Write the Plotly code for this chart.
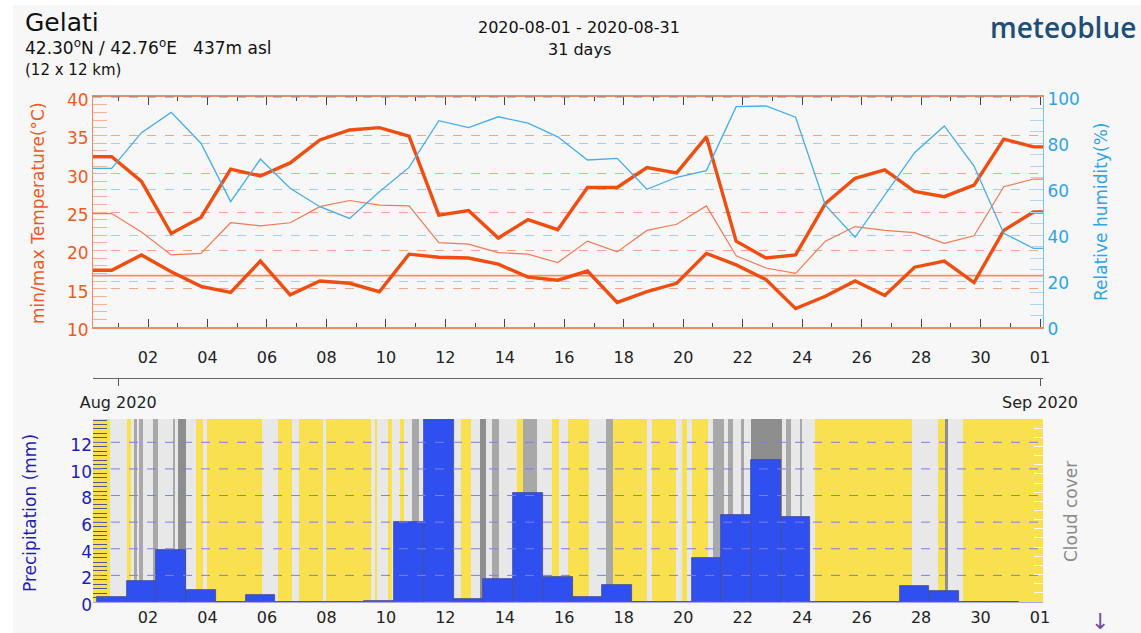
import numpy as np
import plotly.graph_objects as go

# ---------------- data ----------------
tick_days = [1, 3, 5, 7, 9, 11, 13, 15, 17, 19, 21, 23, 25, 27, 29, 31]
tick_labels = ["02", "04", "06", "08", "10", "12", "14", "16", "18", "20",
               "22", "24", "26", "28", "30", "01"]
month_days = [0, 31]
month_labels = ["Aug 2020", "Sep 2020"]

# daily values Aug 1 .. Sep 1
temp_max = [32.2, 29.0, 22.2, 24.3, 30.6, 29.7, 31.4, 34.4, 35.7, 36.0, 34.9,
            24.6, 25.2, 21.6, 24.0, 22.7, 28.2, 28.2, 30.8, 30.1, 34.8, 21.2,
            19.0, 19.4, 26.1, 29.4, 30.5, 27.7, 27.0, 28.5, 34.5, 33.5]
temp_mean = [24.8, 22.4, 19.4, 19.6, 23.6, 23.2, 23.6, 25.7, 26.5, 25.9, 25.8,
             21.0, 20.8, 19.7, 19.5, 18.4, 21.2, 19.8, 22.6, 23.4, 25.8, 19.3,
             17.7, 17.0, 21.2, 23.1, 22.6, 22.3, 20.9, 21.9, 28.3, 29.3]
temp_min = [17.4, 19.4, 17.2, 15.3, 14.5, 18.6, 14.2, 16.0, 15.7, 14.6, 19.5,
            19.1, 19.0, 18.2, 16.5, 16.1, 17.3, 13.2, 14.6, 15.7, 19.6, 18.1,
            16.2, 12.4, 14.0, 16.0, 14.1, 17.8, 18.6, 15.8, 22.6, 25.0]
humidity = [69.0, 84.5, 93.3, 79.9, 54.5, 73.0, 60.3, 52.3, 47.2, 58.8, 69.4,
            89.7, 86.7, 91.4, 88.6, 82.7, 72.6, 73.3, 59.9, 65.1, 68.0, 95.8,
            96.1, 91.2, 53.0, 39.0, 57.4, 75.8, 87.4, 70.0, 40.7, 34.2]
temp_ref = 16.7

# daily precipitation Aug 1 .. Aug 31 (mm)
precip = [0.4, 1.6, 3.9, 0.9, 0.0, 0.5, 0.0, 0.0, 0.0, 0.1, 6.0, 13.8, 0.2,
          1.7, 8.2, 1.9, 0.4, 1.3, 0.0, 0.0, 3.3, 6.5, 10.7, 6.4, 0.0, 0.0,
          0.0, 1.2, 0.8, 0.0, 0.0]

# cloud cover: segment start (hours from Aug 1 00:00) and level
# 0 = clear, 1 = partly cloudy, 2 = cloudy, 3 = overcast
cloud_start_h = [-21, -7, 7, 10, 13, 15, 17, 20, 28, 32, 44, 46, 48, 55, 63,
                 68, 72, 116, 129, 140, 146, 165, 168, 204, 207, 209, 218,
                 221, 227, 231, 237, 243, 277, 285, 292, 297, 302, 307, 322,
                 327, 338, 350, 356, 363, 380, 394, 399, 427, 431, 450, 455,
                 459, 463, 476, 480, 489, 492, 496, 503, 505, 511, 536, 539,
                 543, 550, 552, 562, 641, 662, 667, 670, 682]
cloud_level = [0, 1, 0, 1, 2, 1, 2, 1, 2, 1, 2, 1, 3, 1, 0, 1, 0, 1, 0, 1,
               0, 1, 0, 1, 0, 1, 0, 1, 0, 1, 2, 1, 0, 1, 3, 1, 2, 1, 0, 2,
               1, 0, 1, 0, 1, 2, 0, 1, 0, 1, 0, 1, 0, 1, 2, 1, 2, 1, 2, 1,
               3, 1, 2, 1, 2, 1, 0, 1, 0, 3, 1, 0]

precip_ticks = [0, 2, 4, 6, 8, 10, 12]
temp_ticks = [10, 15, 20, 25, 30, 35, 40]
hum_ticks = [0, 20, 40, 60, 80, 100]

# ---------------- style / layout constants ----------------
X0, X1 = -0.85, 31.1          # axis range in days from Aug 1 00:00
PT_OFF = -0.22                # data timestamps relative to day start
PREC_MAX = 13.75
FONT = "DejaVu Sans"
ORANGE = "#EF4E10"
BLUE_H = "#45ADEC"
PREC_BLUE = "#2F4FEF"
CLOUD_COLORS = ["#F8E04E", "#E8E8E8", "#A8A8A8", "#8E8E8E"]
BG = "#F7F7F7"

ML, MR, MT, MB = 93, 98, 97, 31
W, H = 1141, 633
PW, PH = W - ML - MR, H - MT - MB


def px_x(px):
    return (px - ML) / PW


def px_y(py):
    return (H - MB - py) / PH


fig = go.Figure()

# ---------------- top chart ----------------
x_pts = np.arange(len(temp_max)) + PT_OFF


def padded(v):
    return [X0] + list(x_pts) + [X1], [v[0]] + list(v) + [v[-1]]


fig.add_trace(go.Scatter(x=[X0, X1], y=[temp_ref, temp_ref], mode="lines",
                         line=dict(color="#F2906A", width=1.6),
                         hoverinfo="skip", showlegend=False, xaxis="x", yaxis="y"))
xs, ys = padded(temp_mean)
fig.add_trace(go.Scatter(x=xs, y=ys, mode="lines", line=dict(color="#F27A52", width=1.2),
                         showlegend=False, xaxis="x", yaxis="y"))
xs, ys = padded(temp_max)
fig.add_trace(go.Scatter(x=xs, y=ys, mode="lines", line=dict(color=ORANGE, width=3.4),
                         showlegend=False, xaxis="x", yaxis="y"))
xs, ys = padded(temp_min)
fig.add_trace(go.Scatter(x=xs, y=ys, mode="lines", line=dict(color=ORANGE, width=3.4),
                         showlegend=False, xaxis="x", yaxis="y"))
xs, ys = padded(humidity)
fig.add_trace(go.Scatter(x=xs, y=ys, mode="lines", line=dict(color=BLUE_H, width=1.3),
                         showlegend=False, xaxis="x", yaxis="y2"))

# separator (month) axis dummy trace
fig.add_trace(go.Scatter(x=[X0, X1], y=[25, 25], mode="lines", line=dict(width=0),
                         hoverinfo="skip", showlegend=False, xaxis="x3", yaxis="y"))

# ---------------- bottom chart ----------------
c_start = np.array(cloud_start_h, dtype=float) / 24.0
c_end = np.append(c_start[1:], X1)
c_start[0] = X0
fig.add_trace(go.Bar(x=(c_start + c_end) / 2, y=[PREC_MAX] * len(c_start),
                     width=c_end - c_start,
                     marker=dict(color=[CLOUD_COLORS[l] for l in cloud_level],
                                 line=dict(width=0)),
                     hoverinfo="skip", showlegend=False, xaxis="x2", yaxis="y3"))
p_x = np.arange(len(precip)) + PT_OFF
fig.add_trace(go.Bar(x=p_x, y=precip, width=1.0,
                     marker=dict(color=PREC_BLUE, line=dict(color="#4A4A90", width=0.8)),
                     showlegend=False, xaxis="x2", yaxis="y3"))
fig.add_trace(go.Scatter(x=[0], y=[50], mode="markers", marker=dict(opacity=0),
                         hoverinfo="skip", showlegend=False, xaxis="x2", yaxis="y4"))

# dashed precipitation grid above the bars
shapes = []
for v in precip_ticks[1:]:
    shapes.append(dict(type="line", xref="x2 domain", yref="y3", x0=0, x1=1, y0=v, y1=v,
                       line=dict(color="#7E7EE6", width=1, dash="dash"), layer="above"))
# top border of the top chart
shapes.append(dict(type="line", xref="x domain", yref="y domain", x0=0, x1=1, y0=1, y1=1,
                   line=dict(color="#888888", width=1, dash="dash"), layer="above"))
# page background with white border
shapes.append(dict(type="rect", xref="paper", yref="paper", x0=px_x(13), x1=px_x(W),
                   y0=px_y(H), y1=px_y(5), fillcolor=BG, line=dict(width=0), layer="below"))

tickfont = dict(family=FONT, size=16, color="#222222")

fig.update_layout(
    width=W, height=H, autosize=False,
    margin=dict(l=ML, r=MR, t=MT, b=MB, autoexpand=False),
    paper_bgcolor="#FFFFFF", plot_bgcolor=BG,
    barmode="overlay", bargap=0,
    font=dict(family=FONT),
    shapes=shapes,
    xaxis=dict(domain=[0, 1], anchor="y", range=[X0, X1], automargin=False,
               tickvals=tick_days, ticktext=tick_labels, tickfont=tickfont,
               ticks="inside", ticklen=8, tickcolor="#444444", tickwidth=1,
               minor=dict(dtick=1, tick0=0, ticks="inside", ticklen=4, tickcolor="#444444"),
               showline=True, linecolor="#F08A60", linewidth=2, mirror="ticks",
               showgrid=False, zeroline=False, ticklabelstandoff=15),
    yaxis=dict(domain=[px_y(327), 1], anchor="x", range=[10, 40], automargin=False,
               tickvals=temp_ticks, tickfont=dict(family=FONT, size=17, color="#F05A1E"),
               ticks="inside", ticklen=14, tickcolor="#F6B39A", ticklabelshift=3,
               minor=dict(dtick=1, tick0=0, ticks="inside", ticklen=14, tickcolor="#F6B39A"),
               showline=True, linecolor="#F08A60", linewidth=1,
               showgrid=True, gridcolor="#F7A586", griddash="dash", gridwidth=1,
               zeroline=False),
    yaxis2=dict(overlaying="y", side="right", anchor="x", range=[0, 100], automargin=False,
                tickvals=hum_ticks, tickfont=dict(family=FONT, size=17, color="#2FA4E8"),
                ticks="inside", ticklen=13, tickcolor="#A9D9F6", ticklabelshift=2,
                minor=dict(dtick=5, tick0=0, ticks="inside", ticklen=13, tickcolor="#A9D9F6"),
                showline=True, linecolor="#7CC2EF", linewidth=1,
                showgrid=True, gridcolor="#9ED0F2", griddash="dash", gridwidth=1,
                zeroline=False),
    xaxis3=dict(overlaying="x", anchor="free", position=px_y(378), side="bottom",
                range=[X0, X1], tickvals=month_days, ticktext=month_labels,
                automargin=False,
                tickfont=tickfont, ticks="outside", ticklen=7, tickcolor="#555555",
                showline=True, linecolor="#666666", linewidth=1, showgrid=False,
                zeroline=False, ticklabelstandoff=3),
    xaxis2=dict(domain=[0, 1], anchor="y3", range=[X0, X1], automargin=False,
                tickvals=tick_days, ticktext=tick_labels, tickfont=tickfont,
                ticks="", showline=True, linecolor="#A6A6EA", linewidth=1,
                showgrid=False, zeroline=False, ticklabelstandoff=1),
    yaxis3=dict(domain=[0, px_y(419)], anchor="x2", range=[0, PREC_MAX], automargin=False,
                tickvals=precip_ticks, tickfont=dict(family=FONT, size=17, color="#1E1EB4"),
                ticks="inside", ticklen=14, tickcolor="#55558A", ticklabelshift=3,
                minor=dict(dtick=1 / 3, tick0=0, ticks="inside", ticklen=14,
                           tickcolor="#55558A"),
                showline=False, showgrid=False, zeroline=False),
    yaxis4=dict(overlaying="y3", side="right", anchor="x2", range=[0, 100], automargin=False,
                dtick=5, ticks="inside", ticklen=9, tickcolor="#FFFFFF",
                showticklabels=False, showline=False, showgrid=False, zeroline=False),
)

ann = [
    dict(text="Gelati", x=px_x(23), y=px_y(22), font=dict(size=25, color="#111111"),
         xanchor="left"),
    dict(text="42.30<sup>o</sup>N / 42.76<sup>o</sup>E\u00a0\u00a0\u00a0437m asl",
         x=px_x(23), y=px_y(47), font=dict(size=17, color="#111111"), xanchor="left"),
    dict(text="(12 x 12 km)", x=px_x(23), y=px_y(70), font=dict(size=15, color="#111111"),
         xanchor="left"),
    dict(text="2020-08-01 - 2020-08-31", x=px_x(579), y=px_y(27),
         font=dict(size=16, color="#111111"), xanchor="center"),
    dict(text="31 days", x=px_x(579), y=px_y(50), font=dict(size=16, color="#111111"),
         xanchor="center"),
    dict(text="meteoblue", x=px_x(1138), y=px_y(27),
         font=dict(family="Open Sans", size=28, color="#1D4E7A", weight=600),
         xanchor="right"),
    dict(text="min/max Temperature(°C)", x=px_x(38), y=px_y(213), textangle=-90,
         font=dict(size=17, color="#F05A1E"), xanchor="center"),
    dict(text="Relative humidity(%)", x=px_x(1101), y=px_y(212), textangle=-90,
         font=dict(size=17, color="#2FA4E8"), xanchor="center"),
    dict(text="Precipitation (mm)", x=px_x(30), y=px_y(513), textangle=-90,
         font=dict(size=17, color="#1E1EB4"), xanchor="center"),
    dict(text="Cloud cover", x=px_x(1071), y=px_y(512), textangle=-90,
         font=dict(size=17, color="#8A8A8A"), xanchor="center"),
    dict(text="↓", x=px_x(1100), y=px_y(621), font=dict(size=22, color="#6B4FA3"),
         xanchor="center"),
]
for a in ann:
    a.update(xref="paper", yref="paper", showarrow=False, yanchor="middle")
    a["font"].setdefault("family", FONT)
fig.update_layout(annotations=ann)

fig.write_html("out.html", config={"displayModeBar": False},
               post_script="document.body.style.margin='0px';")
